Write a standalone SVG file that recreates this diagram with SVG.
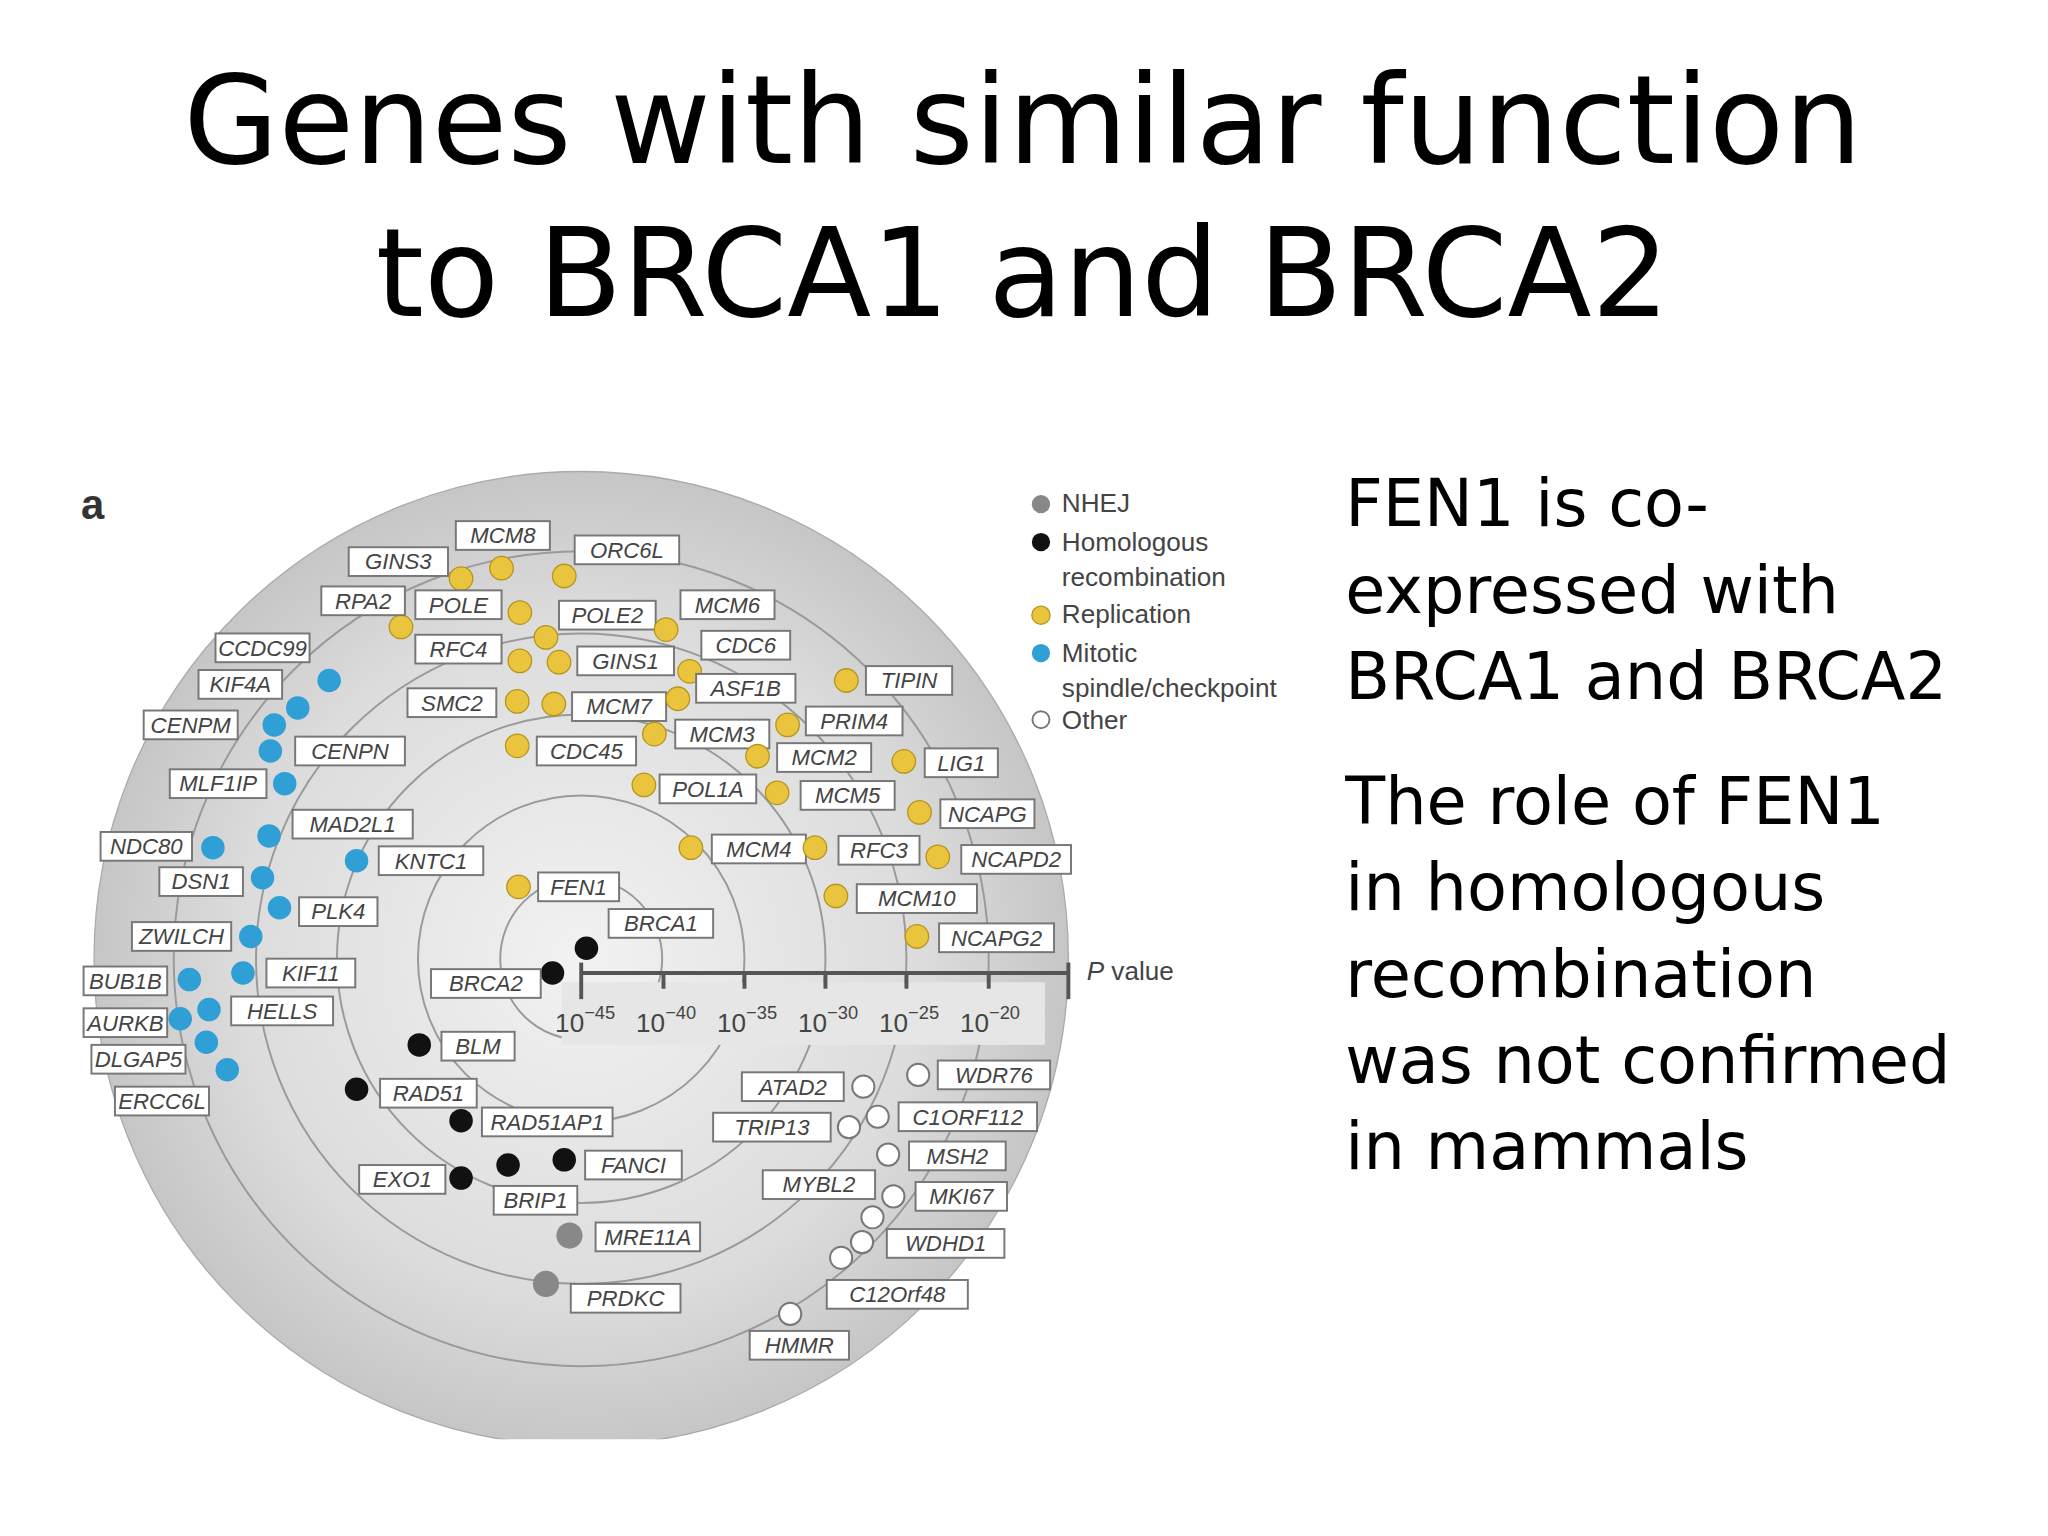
<svg xmlns="http://www.w3.org/2000/svg" width="2048" height="1536" viewBox="0 0 2048 1536">
<style>
.t{font-family:"DejaVu Sans",sans-serif;fill:#000}
.lb rect{fill:#fff;stroke:#777;stroke-width:1.5}
.lb text{font-family:"Liberation Sans",Arial,sans-serif;font-style:italic;font-size:17px;fill:#444;text-anchor:middle}
.y{fill:#e9c43c;stroke:#b59520;stroke-width:1}
.b{fill:#2f9fd5}
.k{fill:#111}
.g{fill:#888}
.w{fill:#fff;stroke:#777;stroke-width:1.5}
.ring{fill:none;stroke:#9a9a9a;stroke-width:1.5}
.lg{font-family:"Liberation Sans",Arial,sans-serif;font-size:20px;fill:#444}
.ax{font-family:"Liberation Sans",Arial,sans-serif;font-size:20px;fill:#444}
</style>
<defs>
<radialGradient id="bg" cx="0.5" cy="0.5" r="0.5">
<stop offset="0" stop-color="#f2f2f2"/><stop offset="0.7" stop-color="#dcdcdc"/><stop offset="1" stop-color="#c6c6c6"/>
</radialGradient>
<clipPath id="cp"><rect x="0" y="0" width="1000" height="1102"/></clipPath>
</defs>
<rect width="2048" height="1536" fill="#fff"/>
<g transform="scale(1.3061)">
<text class="t" x="783" y="125" font-size="94" text-anchor="middle">Genes with similar function</text>
<text class="t" x="783" y="242" font-size="94" text-anchor="middle">to BRCA1 and BRCA2</text>
<g class="t" font-size="50">
<text x="1030" y="403">FEN1 is co-</text>
<text x="1030" y="469">expressed with</text>
<text x="1030" y="535">BRCA1 and BRCA2</text>
<text x="1030" y="631">The role of FEN1</text>
<text x="1030" y="697">in homologous</text>
<text x="1030" y="763">recombination</text>
<text x="1030" y="829">was not confirmed</text>
<text x="1030" y="895">in mammals</text>
</g>
<text x="62" y="397" font-family="Liberation Sans,Arial,sans-serif" font-weight="bold" font-size="32" fill="#333">a</text>
<g id="chart">
<circle cx="445" cy="734" r="373" fill="url(#bg)" stroke="#aaa" clip-path="url(#cp)"/>
<circle class="ring" cx="445" cy="734" r="62"/>
<circle class="ring" cx="445" cy="734" r="125"/>
<circle class="ring" cx="445" cy="734" r="187"/>
<circle class="ring" cx="445" cy="734" r="249"/>
<circle class="ring" cx="445" cy="734" r="312"/>
<rect x="430" y="752" width="370" height="48" fill="#e6e6e6"/>
<g stroke="#555" stroke-width="3">
<line x1="445" y1="745" x2="818" y2="745"/>
<line x1="445" y1="737" x2="445" y2="765"/>
<line x1="508" y1="745" x2="508" y2="757"/>
<line x1="570" y1="745" x2="570" y2="757"/>
<line x1="632" y1="745" x2="632" y2="757"/>
<line x1="694" y1="745" x2="694" y2="757"/>
<line x1="757" y1="745" x2="757" y2="757"/>
<line x1="818" y1="737" x2="818" y2="765"/>
</g>
<g class="ax" text-anchor="middle">
<text x="448" y="790">10<tspan dy="-10" font-size="14">−45</tspan></text>
<text x="510" y="790">10<tspan dy="-10" font-size="14">−40</tspan></text>
<text x="572" y="790">10<tspan dy="-10" font-size="14">−35</tspan></text>
<text x="634" y="790">10<tspan dy="-10" font-size="14">−30</tspan></text>
<text x="696" y="790">10<tspan dy="-10" font-size="14">−25</tspan></text>
<text x="758" y="790">10<tspan dy="-10" font-size="14">−20</tspan></text>
</g>
<text class="ax" x="832" y="750"><tspan font-style="italic">P</tspan> value</text>
</g>
<g id="legend">
<circle cx="797" cy="386" r="7" class="g"/><text class="lg" x="813" y="392">NHEJ</text>
<circle cx="797" cy="415" r="7" class="k"/><text class="lg" x="813" y="422">Homologous</text><text class="lg" x="813" y="449">recombination</text>
<circle cx="797" cy="471" r="7" class="y"/><text class="lg" x="813" y="477">Replication</text>
<circle cx="797" cy="500" r="7" class="b"/><text class="lg" x="813" y="507">Mitotic</text><text class="lg" x="813" y="534">spindle/checkpoint</text>
<circle cx="797" cy="551" r="6.5" class="w"/><text class="lg" x="813" y="558">Other</text>
</g>
<g id="connectors"></g>
<g id="MCM8" class="lb"><circle class="y" cx="384" cy="435" r="9"/><rect x="349" y="399" width="72" height="22"/><text x="385" y="416">MCM8</text></g>
<g id="GINS3" class="lb"><circle class="y" cx="353" cy="443" r="9"/><rect x="267" y="419" width="76" height="22"/><text x="305" y="436">GINS3</text></g>
<g id="ORC6L" class="lb"><circle class="y" cx="432" cy="441" r="9"/><rect x="440" y="410" width="80" height="22"/><text x="480" y="427">ORC6L</text></g>
<g id="RPA2" class="lb"><circle class="y" cx="307" cy="480" r="9"/><rect x="246" y="449" width="64" height="22"/><text x="278" y="466">RPA2</text></g>
<g id="POLE" class="lb"><circle class="y" cx="398" cy="469" r="9"/><rect x="318" y="452" width="66" height="22"/><text x="351" y="469">POLE</text></g>
<g id="POLE2" class="lb"><circle class="y" cx="418" cy="488" r="9"/><rect x="428" y="460" width="74" height="22"/><text x="465" y="477">POLE2</text></g>
<g id="MCM6" class="lb"><circle class="y" cx="510" cy="482" r="9"/><rect x="521" y="452" width="72" height="22"/><text x="557" y="469">MCM6</text></g>
<g id="RFC4" class="lb"><circle class="y" cx="398" cy="506" r="9"/><rect x="318" y="486" width="66" height="22"/><text x="351" y="503">RFC4</text></g>
<g id="GINS1" class="lb"><circle class="y" cx="428" cy="507" r="9"/><rect x="442" y="495" width="74" height="22"/><text x="479" y="512">GINS1</text></g>
<g id="CDC6" class="lb"><circle class="y" cx="528" cy="514" r="9"/><rect x="537" y="483" width="68" height="22"/><text x="571" y="500">CDC6</text></g>
<g id="SMC2" class="lb"><circle class="y" cx="396" cy="537" r="9"/><rect x="312" y="527" width="68" height="22"/><text x="346" y="544">SMC2</text></g>
<g id="MCM7" class="lb"><circle class="y" cx="424" cy="539" r="9"/><rect x="438" y="530" width="72" height="22"/><text x="474" y="547">MCM7</text></g>
<g id="ASF1B" class="lb"><circle class="y" cx="519" cy="535" r="9"/><rect x="533" y="516" width="76" height="22"/><text x="571" y="533">ASF1B</text></g>
<g id="TIPIN" class="lb"><circle class="y" cx="648" cy="521" r="9"/><rect x="663" y="510" width="66" height="22"/><text x="696" y="527">TIPIN</text></g>
<g id="MCM3" class="lb"><circle class="y" cx="501" cy="562" r="9"/><rect x="517" y="551" width="72" height="22"/><text x="553" y="568">MCM3</text></g>
<g id="PRIM4" class="lb"><circle class="y" cx="603" cy="555" r="9"/><rect x="617" y="541" width="74" height="22"/><text x="654" y="558">PRIM4</text></g>
<g id="CDC45" class="lb"><circle class="y" cx="396" cy="571" r="9"/><rect x="411" y="564" width="76" height="22"/><text x="449" y="581">CDC45</text></g>
<g id="MCM2" class="lb"><circle class="y" cx="580" cy="579" r="9"/><rect x="595" y="569" width="72" height="22"/><text x="631" y="586">MCM2</text></g>
<g id="LIG1" class="lb"><circle class="y" cx="692" cy="583" r="9"/><rect x="708" y="573" width="56" height="22"/><text x="736" y="590">LIG1</text></g>
<g id="POL1A" class="lb"><circle class="y" cx="493" cy="601" r="9"/><rect x="505" y="593" width="74" height="22"/><text x="542" y="610">POL1A</text></g>
<g id="MCM5" class="lb"><circle class="y" cx="595" cy="607" r="9"/><rect x="613" y="598" width="72" height="22"/><text x="649" y="615">MCM5</text></g>
<g id="NCAPG" class="lb"><circle class="y" cx="704" cy="622" r="9"/><rect x="720" y="612" width="72" height="22"/><text x="756" y="629">NCAPG</text></g>
<g id="MCM4" class="lb"><circle class="y" cx="529" cy="649" r="9"/><rect x="545" y="639" width="72" height="22"/><text x="581" y="656">MCM4</text></g>
<g id="RFC3" class="lb"><circle class="y" cx="624" cy="649" r="9"/><rect x="642" y="640" width="62" height="22"/><text x="673" y="657">RFC3</text></g>
<g id="NCAPD2" class="lb"><circle class="y" cx="718" cy="656" r="9"/><rect x="736" y="647" width="84" height="22"/><text x="778" y="664">NCAPD2</text></g>
<g id="MCM10" class="lb"><circle class="y" cx="640" cy="686" r="9"/><rect x="656" y="677" width="92" height="22"/><text x="702" y="694">MCM10</text></g>
<g id="FEN1" class="lb"><circle class="y" cx="397" cy="679" r="9"/><rect x="412" y="668" width="62" height="22"/><text x="443" y="685">FEN1</text></g>
<g id="NCAPG2" class="lb"><circle class="y" cx="702" cy="717" r="9"/><rect x="719" y="707" width="88" height="22"/><text x="763" y="724">NCAPG2</text></g>
<g id="CCDC99" class="lb"><circle class="b" cx="252" cy="521" r="9"/><rect x="165" y="485" width="72" height="22"/><text x="201" y="502">CCDC99</text></g>
<g id="KIF4A" class="lb"><circle class="b" cx="228" cy="542" r="9"/><rect x="152" y="513" width="64" height="22"/><text x="184" y="530">KIF4A</text></g>
<g id="CENPM" class="lb"><circle class="b" cx="210" cy="555" r="9"/><rect x="110" y="544" width="72" height="22"/><text x="146" y="561">CENPM</text></g>
<g id="CENPN" class="lb"><circle class="b" cx="207" cy="575" r="9"/><rect x="226" y="564" width="84" height="22"/><text x="268" y="581">CENPN</text></g>
<g id="MLF1IP" class="lb"><circle class="b" cx="218" cy="600" r="9"/><rect x="130" y="589" width="74" height="22"/><text x="167" y="606">MLF1IP</text></g>
<g id="MAD2L1" class="lb"><circle class="b" cx="206" cy="640" r="9"/><rect x="224" y="620" width="92" height="22"/><text x="270" y="637">MAD2L1</text></g>
<g id="NDC80" class="lb"><circle class="b" cx="163" cy="649" r="9"/><rect x="77" y="637" width="70" height="22"/><text x="112" y="654">NDC80</text></g>
<g id="KNTC1" class="lb"><circle class="b" cx="273" cy="659" r="9"/><rect x="290" y="648" width="80" height="22"/><text x="330" y="665">KNTC1</text></g>
<g id="DSN1" class="lb"><circle class="b" cx="201" cy="672" r="9"/><rect x="122" y="664" width="64" height="22"/><text x="154" y="681">DSN1</text></g>
<g id="PLK4" class="lb"><circle class="b" cx="214" cy="695" r="9"/><rect x="229" y="687" width="60" height="22"/><text x="259" y="704">PLK4</text></g>
<g id="ZWILCH" class="lb"><circle class="b" cx="192" cy="717" r="9"/><rect x="101" y="706" width="76" height="22"/><text x="139" y="723">ZWILCH</text></g>
<g id="KIF11" class="lb"><circle class="b" cx="186" cy="745" r="9"/><rect x="204" y="734" width="68" height="22"/><text x="238" y="751">KIF11</text></g>
<g id="BUB1B" class="lb"><circle class="b" cx="145" cy="750" r="9"/><rect x="64" y="740" width="64" height="22"/><text x="96" y="757">BUB1B</text></g>
<g id="HELLS" class="lb"><circle class="b" cx="160" cy="773" r="9"/><rect x="177" y="763" width="78" height="22"/><text x="216" y="780">HELLS</text></g>
<g id="AURKB" class="lb"><circle class="b" cx="138" cy="780" r="9"/><rect x="64" y="772" width="64" height="22"/><text x="96" y="789">AURKB</text></g>
<g id="DLGAP5" class="lb"><circle class="b" cx="158" cy="798" r="9"/><rect x="70" y="800" width="72" height="22"/><text x="106" y="817">DLGAP5</text></g>
<g id="ERCC6L" class="lb"><circle class="b" cx="174" cy="819" r="9"/><rect x="88" y="832" width="72" height="22"/><text x="124" y="849">ERCC6L</text></g>
<g id="BRCA1" class="lb"><circle class="k" cx="449" cy="726" r="9"/><rect x="466" y="696" width="80" height="22"/><text x="506" y="713">BRCA1</text></g>
<g id="BRCA2" class="lb"><circle class="k" cx="423" cy="745" r="9"/><rect x="330" y="742" width="84" height="22"/><text x="372" y="759">BRCA2</text></g>
<g id="BLM" class="lb"><circle class="k" cx="321" cy="800" r="9"/><rect x="338" y="790" width="56" height="22"/><text x="366" y="807">BLM</text></g>
<g id="RAD51" class="lb"><circle class="k" cx="273" cy="834" r="9"/><rect x="291" y="826" width="74" height="22"/><text x="328" y="843">RAD51</text></g>
<g id="RAD51AP1" class="lb"><circle class="k" cx="353" cy="858" r="9"/><rect x="369" y="848" width="100" height="22"/><text x="419" y="865">RAD51AP1</text></g>
<g id="FANCI" class="lb"><circle class="k" cx="432" cy="888" r="9"/><rect x="448" y="881" width="74" height="22"/><text x="485" y="898">FANCI</text></g>
<g id="EXO1" class="lb"><circle class="k" cx="353" cy="902" r="9"/><rect x="275" y="892" width="66" height="22"/><text x="308" y="909">EXO1</text></g>
<g id="BRIP1" class="lb"><circle class="k" cx="389" cy="892" r="9"/><rect x="378" y="908" width="64" height="22"/><text x="410" y="925">BRIP1</text></g>
<g id="MRE11A" class="lb"><circle class="g" cx="436" cy="946" r="10"/><rect x="456" y="936" width="80" height="22"/><text x="496" y="953">MRE11A</text></g>
<g id="PRDKC" class="lb"><circle class="g" cx="418" cy="983" r="10"/><rect x="437" y="983" width="84" height="22"/><text x="479" y="1000">PRDKC</text></g>
<g id="ATAD2" class="lb"><circle class="w" cx="661" cy="832" r="8.5"/><rect x="568" y="821" width="78" height="22"/><text x="607" y="838">ATAD2</text></g>
<g id="WDR76" class="lb"><circle class="w" cx="703" cy="823" r="8.5"/><rect x="718" y="812" width="86" height="22"/><text x="761" y="829">WDR76</text></g>
<g id="TRIP13" class="lb"><circle class="w" cx="650" cy="863" r="8.5"/><rect x="546" y="852" width="90" height="22"/><text x="591" y="869">TRIP13</text></g>
<g id="C1ORF112" class="lb"><circle class="w" cx="672" cy="855" r="8.5"/><rect x="688" y="844" width="106" height="22"/><text x="741" y="861">C1ORF112</text></g>
<g id="MSH2" class="lb"><circle class="w" cx="680" cy="884" r="8.5"/><rect x="696" y="874" width="74" height="22"/><text x="733" y="891">MSH2</text></g>
<g id="MYBL2" class="lb"><circle class="w" cx="668" cy="932" r="8.5"/><rect x="584" y="896" width="86" height="22"/><text x="627" y="913">MYBL2</text></g>
<g id="MKI67" class="lb"><circle class="w" cx="684" cy="916" r="8.5"/><rect x="701" y="905" width="70" height="22"/><text x="736" y="922">MKI67</text></g>
<g id="WDHD1" class="lb"><circle class="w" cx="660" cy="951" r="8.5"/><rect x="679" y="941" width="90" height="22"/><text x="724" y="958">WDHD1</text></g>
<g id="C12Orf48" class="lb"><circle class="w" cx="644" cy="963" r="8.5"/><rect x="633" y="980" width="108" height="22"/><text x="687" y="997">C12Orf48</text></g>
<g id="HMMR" class="lb"><circle class="w" cx="605" cy="1006" r="8.5"/><rect x="574" y="1019" width="76" height="22"/><text x="612" y="1036">HMMR</text></g>
</g>
</svg>
